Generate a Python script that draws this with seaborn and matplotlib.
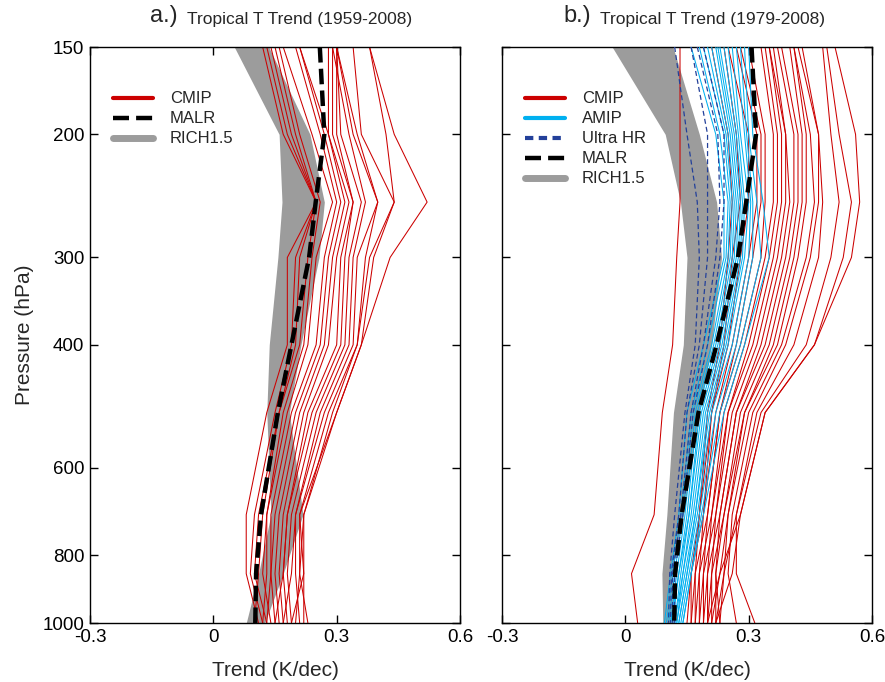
import numpy as np
import pandas as pd
import matplotlib
matplotlib.use("Agg")
import matplotlib.pyplot as plt
import seaborn as sns
from matplotlib.lines import Line2D
from matplotlib.ticker import NullLocator

# ---------------- data ----------------
levels = [1000, 850, 700, 500, 400, 300, 250, 200, 150]

# Panel a (1959-2008)
cmip_a = [
    [0.11, 0.08, 0.08, 0.13, 0.18, 0.18, 0.25, 0.17, 0.12],
    [0.12, 0.09, 0.10, 0.15, 0.19, 0.20, 0.25, 0.18, 0.13],
    [0.13, 0.10, 0.11, 0.16, 0.20, 0.21, 0.25, 0.19, 0.14],
    [0.10, 0.11, 0.12, 0.16, 0.21, 0.23, 0.25, 0.20, 0.15],
    [0.14, 0.12, 0.13, 0.17, 0.22, 0.24, 0.26, 0.21, 0.16],
    [0.12, 0.13, 0.13, 0.18, 0.23, 0.25, 0.29, 0.24, 0.17],
    [0.15, 0.14, 0.14, 0.19, 0.25, 0.27, 0.30, 0.26, 0.20],
    [0.13, 0.14, 0.15, 0.20, 0.26, 0.28, 0.31, 0.27, 0.21],
    [0.16, 0.15, 0.16, 0.21, 0.27, 0.29, 0.32, 0.28, 0.21],
    [0.17, 0.16, 0.17, 0.22, 0.28, 0.30, 0.33, 0.28, 0.28],
    [0.15, 0.17, 0.18, 0.23, 0.30, 0.31, 0.34, 0.29, 0.29],
    [0.18, 0.17, 0.18, 0.24, 0.31, 0.32, 0.34, 0.30, 0.30],
    [0.19, 0.18, 0.19, 0.25, 0.32, 0.33, 0.36, 0.31, 0.30],
    [0.17, 0.19, 0.20, 0.26, 0.33, 0.34, 0.37, 0.33, 0.29],
    [0.21, 0.20, 0.20, 0.27, 0.34, 0.35, 0.40, 0.34, 0.30],
    [0.20, 0.21, 0.21, 0.28, 0.35, 0.37, 0.40, 0.35, 0.30],
    [0.23, 0.21, 0.22, 0.29, 0.35, 0.38, 0.44, 0.36, 0.34],
    [0.19, 0.22, 0.22, 0.30, 0.36, 0.39, 0.44, 0.42, 0.38],
    [0.22, 0.22, 0.21, 0.30, 0.36, 0.43, 0.52, 0.44, 0.38],
]
malr_a = [0.102, 0.104, 0.116, 0.157, 0.190, 0.233, 0.249, 0.270, 0.259]
rich_a_lo = [0.080, 0.110, 0.140, 0.130, 0.136, 0.157, 0.167, 0.160, 0.051]
rich_a_hi = [0.125, 0.170, 0.218, 0.185, 0.213, 0.257, 0.270, 0.235, 0.135]

# Panel b (1979-2008)
cmip_b = [
    [0.03, 0.015, 0.07, 0.09, 0.115, 0.125, 0.133, 0.133, 0.133],
    [0.16, 0.16, 0.18, 0.20, 0.23, 0.25, 0.26, 0.25, 0.21],
    [0.17, 0.17, 0.18, 0.21, 0.24, 0.26, 0.28, 0.27, 0.24],
    [0.15, 0.16, 0.19, 0.21, 0.25, 0.28, 0.30, 0.30, 0.25],
    [0.18, 0.18, 0.19, 0.22, 0.26, 0.30, 0.32, 0.32, 0.27],
    [0.16, 0.17, 0.20, 0.23, 0.27, 0.31, 0.33, 0.33, 0.28],
    [0.19, 0.19, 0.20, 0.23, 0.28, 0.33, 0.34, 0.34, 0.30],
    [0.17, 0.18, 0.21, 0.24, 0.29, 0.34, 0.36, 0.36, 0.33],
    [0.20, 0.20, 0.21, 0.25, 0.30, 0.35, 0.37, 0.37, 0.34],
    [0.18, 0.19, 0.22, 0.25, 0.31, 0.36, 0.38, 0.38, 0.35],
    [0.21, 0.21, 0.22, 0.26, 0.32, 0.37, 0.39, 0.39, 0.35],
    [0.19, 0.20, 0.23, 0.27, 0.33, 0.38, 0.40, 0.39, 0.36],
    [0.22, 0.22, 0.23, 0.27, 0.34, 0.39, 0.41, 0.41, 0.37],
    [0.20, 0.21, 0.24, 0.28, 0.35, 0.40, 0.42, 0.42, 0.38],
    [0.23, 0.22, 0.24, 0.29, 0.36, 0.41, 0.43, 0.43, 0.40],
    [0.21, 0.23, 0.25, 0.29, 0.37, 0.42, 0.44, 0.44, 0.41],
    [0.22, 0.24, 0.25, 0.30, 0.38, 0.44, 0.46, 0.45, 0.41],
    [0.27, 0.25, 0.26, 0.31, 0.39, 0.45, 0.47, 0.47, 0.42],
    [0.23, 0.24, 0.27, 0.32, 0.41, 0.47, 0.48, 0.47, 0.43],
    [0.315, 0.27, 0.27, 0.33, 0.44, 0.50, 0.52, 0.50, 0.48],
    [0.20, 0.23, 0.28, 0.34, 0.46, 0.53, 0.55, 0.52, 0.49],
    [0.22, 0.26, 0.28, 0.34, 0.46, 0.55, 0.57, 0.56, 0.51],
]
amip_b = [
    [0.095, 0.110, 0.130, 0.150, 0.190, 0.240, 0.240, 0.220, 0.160],
    [0.100, 0.115, 0.135, 0.160, 0.200, 0.245, 0.250, 0.230, 0.180],
    [0.105, 0.120, 0.140, 0.165, 0.210, 0.250, 0.255, 0.240, 0.190],
    [0.110, 0.125, 0.145, 0.170, 0.215, 0.255, 0.260, 0.245, 0.200],
    [0.110, 0.130, 0.150, 0.175, 0.220, 0.260, 0.265, 0.250, 0.210],
    [0.115, 0.130, 0.155, 0.180, 0.225, 0.265, 0.270, 0.255, 0.220],
    [0.120, 0.135, 0.155, 0.185, 0.230, 0.270, 0.275, 0.260, 0.225],
    [0.120, 0.140, 0.160, 0.190, 0.235, 0.275, 0.280, 0.265, 0.230],
    [0.125, 0.140, 0.165, 0.195, 0.240, 0.280, 0.285, 0.270, 0.240],
    [0.125, 0.145, 0.170, 0.200, 0.245, 0.285, 0.290, 0.275, 0.250],
    [0.130, 0.150, 0.170, 0.205, 0.250, 0.290, 0.300, 0.280, 0.260],
    [0.130, 0.150, 0.175, 0.210, 0.260, 0.300, 0.305, 0.290, 0.270],
    [0.135, 0.155, 0.180, 0.220, 0.270, 0.310, 0.310, 0.295, 0.280],
    [0.140, 0.160, 0.185, 0.230, 0.280, 0.330, 0.320, 0.300, 0.290],
    [0.140, 0.160, 0.190, 0.240, 0.290, 0.350, 0.335, 0.310, 0.300],
]
ultra_b = [
    [0.105, 0.108, 0.120, 0.145, 0.170, 0.180, 0.175, 0.150, 0.120],
    [0.110, 0.112, 0.130, 0.150, 0.180, 0.200, 0.200, 0.200, 0.160],
    [0.115, 0.115, 0.135, 0.160, 0.190, 0.220, 0.230, 0.225, 0.175],
    [0.120, 0.120, 0.140, 0.165, 0.200, 0.230, 0.240, 0.240, 0.190],
]
malr_b = [0.119, 0.121, 0.137, 0.178, 0.222, 0.274, 0.294, 0.318, 0.307]
rich_b_lo = [0.091, 0.089, 0.101, 0.117, 0.141, 0.150, 0.134, 0.097, -0.032]
rich_b_hi = [0.117, 0.113, 0.141, 0.180, 0.210, 0.234, 0.222, 0.180, 0.116]

x_ticks = [-0.3, 0, 0.3, 0.6]
x_ticklabels = ["-0.3", "0", "0.3", "0.6"]
y_ticks = [150, 200, 300, 400, 600, 800, 1000]
y_ticklabels = ["150", "200", "300", "400", "600", "800", "1000"]

RED = "#cc0000"
CYAN = "#00b0f0"
NAVY = "#23409a"
GREY = "#9c9c9c"

# ---------------- style ----------------
sns.set_theme(style="ticks")
plt.rcParams["font.family"] = ["Liberation Sans", "DejaVu Sans"]
plt.rcParams["axes.linewidth"] = 1.0


def long_df(series, name):
    rows = []
    for i, vals in enumerate(series):
        for p, v in zip(levels, vals):
            rows.append({"model": f"{name}{i}", "pressure": p, "trend": v})
    return pd.DataFrame(rows)


fig = plt.figure(figsize=(8.85, 6.82), dpi=100)
W, H = 885, 682
axA = fig.add_axes([90 / W, 1 - 623 / H, 370 / W, 576 / H])
axB = fig.add_axes([502 / W, 1 - 623 / H, 370 / W, 576 / H])

for ax in (axA, axB):
    ax.set_yscale("log")

# grey RICH bands
axA.fill_betweenx(levels, rich_a_lo, rich_a_hi, color=GREY, lw=0, zorder=1)
axB.fill_betweenx(levels, rich_b_lo, rich_b_hi, color=GREY, lw=0, zorder=1)

# CMIP lines
sns.lineplot(data=long_df(cmip_a, "cmipa"), x="trend", y="pressure", units="model",
             estimator=None, orient="y", color=RED, lw=0.75, ax=axA, legend=False, zorder=2)
sns.lineplot(data=long_df(cmip_b, "cmipb"), x="trend", y="pressure", units="model",
             estimator=None, orient="y", color=RED, lw=0.75, ax=axB, legend=False, zorder=2)
# AMIP lines
sns.lineplot(data=long_df(amip_b, "amip"), x="trend", y="pressure", units="model",
             estimator=None, orient="y", color=CYAN, lw=0.75, ax=axB, legend=False, zorder=3)
# Ultra HR
sns.lineplot(data=long_df(ultra_b, "ultra"), x="trend", y="pressure", units="model",
             estimator=None, orient="y", color=NAVY, lw=0.9, ls=(0, (4, 2.5)),
             ax=axB, legend=False, zorder=4)
# MALR
sns.lineplot(x=malr_a, y=levels, orient="y", color="black", lw=3.2, ls=(0, (3.5, 1.4)),
             ax=axA, legend=False, zorder=5)
sns.lineplot(x=malr_b, y=levels, orient="y", color="black", lw=3.2, ls=(0, (3.5, 1.4)),
             ax=axB, legend=False, zorder=5)

for ax in (axA, axB):
    ax.set_xlim(-0.3, 0.6)
    ax.set_ylim(1000, 150)
    ax.set_yticks(y_ticks)
    ax.yaxis.set_minor_locator(NullLocator())
    ax.set_xticks(x_ticks)
    ax.set_xticklabels(x_ticklabels)
    ax.tick_params(direction="in", length=6, width=1, top=True, right=True,
                   labelsize=13.5, pad=4, colors="black")
    for s in ax.spines.values():
        s.set_color("black")
        s.set_linewidth(1.0)
    ax.set_xlabel("Trend (K/dec)", fontsize=15, labelpad=11)
    ax.set_ylabel("")

axA.set_yticklabels(y_ticklabels)
axB.set_yticklabels([])
axA.set_ylabel("Pressure (hPa)", fontsize=15, labelpad=6)

# titles
axA.text(0.162, 1.035, "a.)", transform=axA.transAxes, fontsize=17, ha="left", va="bottom")
axA.text(0.262, 1.035, "Tropical T Trend (1959-2008)", transform=axA.transAxes,
         fontsize=12.5, ha="left", va="bottom")
axB.text(0.165, 1.035, "b.)", transform=axB.transAxes, fontsize=17, ha="left", va="bottom")
axB.text(0.265, 1.035, "Tropical T Trend (1979-2008)", transform=axB.transAxes,
         fontsize=12.5, ha="left", va="bottom")

# legends
h_cmip = Line2D([], [], color=RED, lw=3)
h_amip = Line2D([], [], color=CYAN, lw=3)
h_ultra = Line2D([], [], color=NAVY, lw=3, ls=(0, (2, 1.3)))
h_malr = Line2D([], [], color="black", lw=3.2, ls=(0, (3.6, 1.6)))
h_rich = Line2D([], [], color=GREY, lw=5)

leg_kw = dict(loc="upper left", frameon=False, fontsize=12, handlelength=2.4,
              handletextpad=1.0, labelspacing=0.3, borderpad=0, borderaxespad=0)
axA.legend([h_cmip, h_malr, h_rich], ["CMIP", "MALR", "RICH1.5"],
           bbox_to_anchor=(0.063, 0.923), **leg_kw)
axB.legend([h_cmip, h_amip, h_ultra, h_malr, h_rich],
           ["CMIP", "AMIP", "Ultra HR", "MALR", "RICH1.5"],
           bbox_to_anchor=(0.063, 0.923), **leg_kw)

fig.savefig("out.png", dpi=100)
